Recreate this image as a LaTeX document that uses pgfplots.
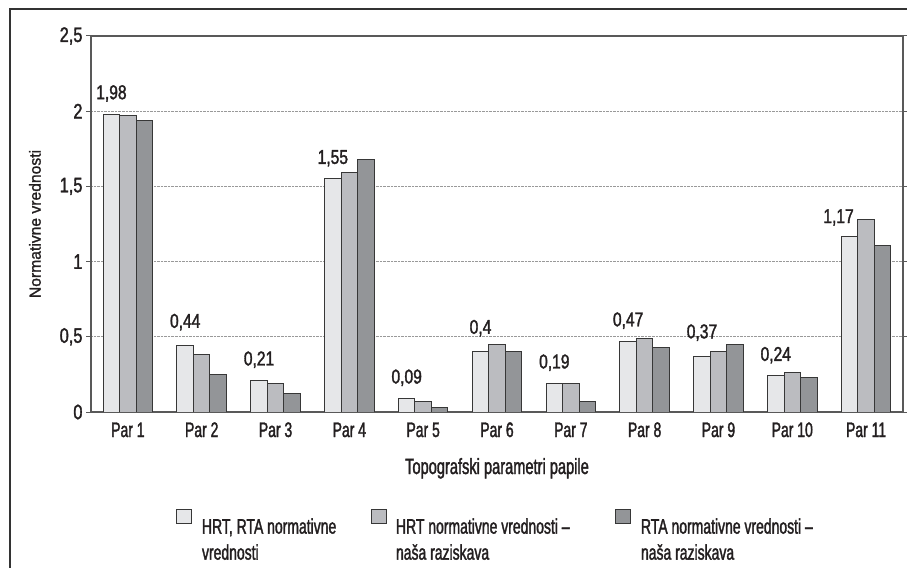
\documentclass[border=0pt]{standalone}
\usepackage{fontspec}
\setmainfont{Liberation Sans}[FakeStretch=0.665, FakeBold=1.6]
\newfontfamily\numf{Liberation Sans}[FakeStretch=0.78, FakeBold=1.6]
\newfontfamily\yfont{Liberation Sans}[FakeStretch=0.98, FakeBold=1.3]
\usepackage{pgfplots}
\usepackage{pgfplotstable}
\pgfplotsset{compat=1.18}
\definecolor{cA}{RGB}{230,231,233}
\definecolor{cB}{RGB}{187,188,192}
\definecolor{cC}{RGB}{147,149,152}
\definecolor{edge}{RGB}{55,55,55}
\definecolor{txt}{RGB}{35,31,32}
\pgfplotstableread{
x a b c
0 1.98 1.97 1.94
1 0.44 0.38 0.25
2 0.21 0.19 0.12
3 1.55 1.59 1.68
4 0.09 0.07 0.03
5 0.40 0.45 0.40
6 0.19 0.19 0.07
7 0.47 0.49 0.43
8 0.37 0.40 0.45
9 0.24 0.26 0.23
10 1.17 1.28 1.11
}\data
\newcommand{\bigf}{\fontsize{21bp}{26bp}\selectfont}
\begin{document}
\begin{tikzpicture}
\useasboundingbox (0,0) rectangle (907bp,568bp);
\draw[line width=1.6bp, black!80] (10bp,0) -- (10bp,559bp) -- (907bp,559bp);
\begin{axis}[
  at={(91bp,156bp)}, anchor=south west,
  scale only axis, width=812bp, height=376bp,
  xmin=-0.5, xmax=10.5, ymin=0, ymax=2.5,
  ybar=0pt, bar width=16.5bp,
  /pgf/number format/assume math mode=true,
  /pgf/number format/use comma,
  /pgf/number format/fixed,
  xtick={0,...,10},
  xticklabels={Par 1,Par 2,Par 3,Par 4,Par 5,Par 6,Par 7,Par 8,Par 9,Par 10,Par 11},
  ytick={0,0.5,1,1.5,2,2.5},
  xtick style={draw=none},
  ytick style={black!65, line width=1bp},
  tick align=outside, major tick length=5bp,
  axis line style={black!65, line width=1.2bp},
  ymajorgrids, grid style={densely dotted, black!40, line width=0.7bp},
  xticklabel style={font=\bigf, text=txt, anchor=base, yshift=-20bp},
  yticklabel style={font=\numf\bigf, text=txt},
  xlabel={Topografski parametri papile},
  xlabel style={font=\fontsize{22bp}{26bp}\selectfont, text=txt, at={(axis description cs:0.5,0)}, anchor=base, yshift=-62bp},
  ylabel={Normativne vrednosti},
  ylabel style={font=\yfont\fontsize{16bp}{18bp}\selectfont, text=txt, at={(axis description cs:-0.069,0.5)}, anchor=center},
  legend columns=3,
  legend cell align=left,
  legend style={at={(0.1047,-0.2574)}, anchor=north west, draw=none, inner sep=0pt, outer sep=0pt,
    /tikz/column sep=0pt, nodes={inner sep=0pt, text=txt}, font=\bigf},
  every axis plot post/.append style={legend image code/.code={\draw[##1, line width=1bp] (0bp,1.5bp) rectangle (15bp,16bp);}},
]
\addplot[fill=cA, draw=edge, line width=1bp,
  nodes near coords={\pgfmathprintnumber[fixed, use comma, precision=2]{\pgfplotspointmeta}},
  point meta=y,
  every node near coord/.append style={anchor=base, yshift=15bp, font=\numf\fontsize{20bp}{22bp}\selectfont, text=txt, inner sep=0pt},
  coordinate style/.condition={x==10}{xshift=-11bp, yshift=-2bp},
  coordinate style/.condition={x==1 || x==5 || x==8}{yshift=3bp},
] table[x=x, y=a]{\data};
\addlegendentry{\hspace*{10bp}\begin{tabular}[t]{@{}p{169bp}@{}}HRT, RTA normativne\\ vrednosti\end{tabular}}
\addplot[fill=cB, draw=edge, line width=1bp] table[x=x, y=b]{\data};
\addlegendentry{\hspace*{9bp}\begin{tabular}[t]{@{}p{219bp}@{}}HRT normativne vrednosti –\\ naša raziskava\end{tabular}}
\addplot[fill=cC, draw=edge, line width=1bp] table[x=x, y=c]{\data};
\addlegendentry{\hspace*{10bp}\begin{tabular}[t]{@{}p{200bp}@{}}RTA normativne vrednosti –\\ naša raziskava\end{tabular}}
\end{axis}
\end{tikzpicture}
\end{document}
